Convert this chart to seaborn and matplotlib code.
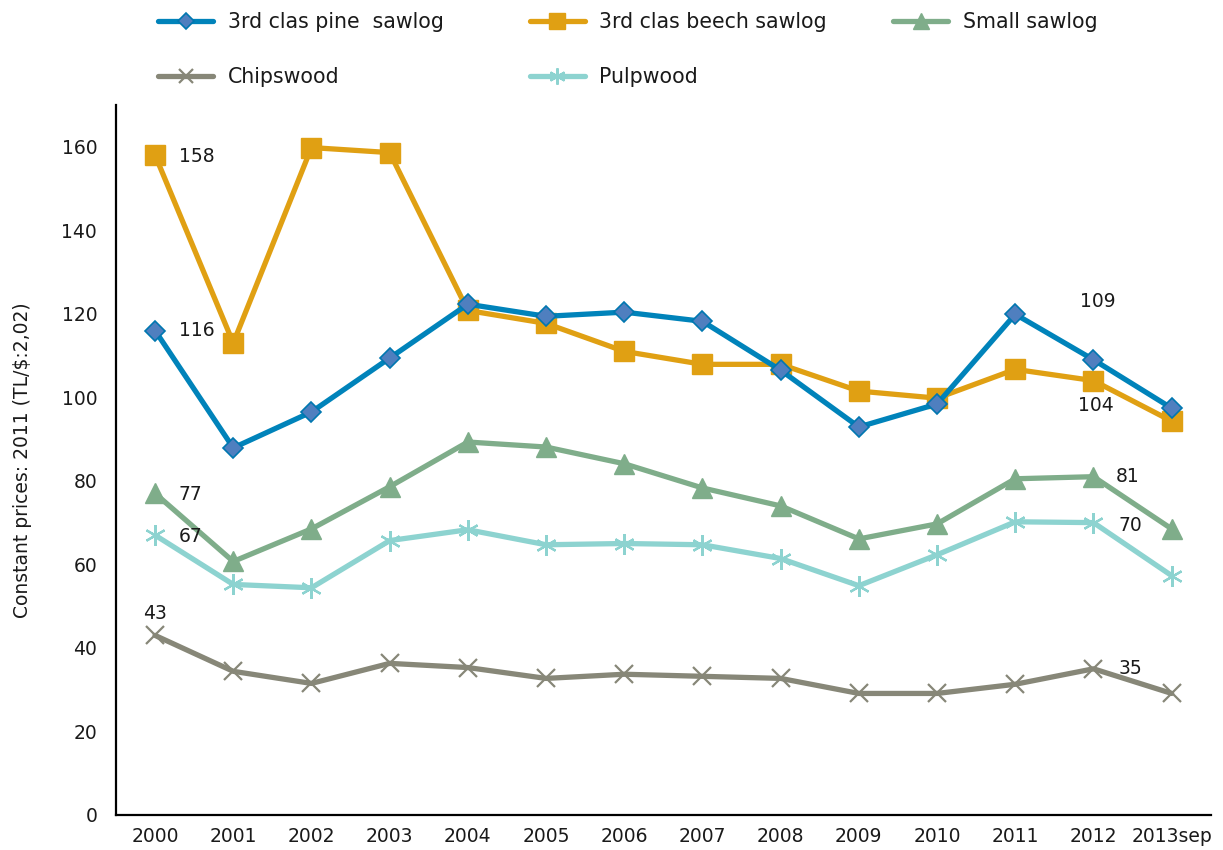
import matplotlib
matplotlib.use("Agg")
import matplotlib.pyplot as plt
import seaborn as sns
import numpy as np
from matplotlib.lines import Line2D

years = ["2000", "2001", "2002", "2003", "2004", "2005", "2006",
         "2007", "2008", "2009", "2010", "2011", "2012", "2013sep"]

pine_sawlog = [116, 87.9, 96.5, 109.4, 122.3, 119.4, 120.4, 118.2, 106.5, 92.9, 98.4, 119.9, 109, 97.4]
beech_sawlog = [158, 113, 159.8, 158.6, 120.8, 117.7, 111, 107.9, 107.9, 101.5, 99.8, 106.7, 104, 94.3]
small_sawlog = [77, 60.7, 68.5, 78.6, 89.3, 88.1, 84.1, 78.3, 74, 66.1, 69.7, 80.5, 81, 68.5]
chipswood = [43, 34.4, 31.5, 36.3, 35.3, 32.7, 33.7, 33.2, 32.7, 29.1, 29.1, 31.3, 35, 29.1]
pulpwood = [67, 55.2, 54.4, 65.7, 68.3, 64.7, 65, 64.7, 61.4, 54.9, 62.3, 70.2, 70, 57.3]

names = ["3rd clas pine  sawlog", "3rd clas beech sawlog", "Small sawlog", "Chipswood", "Pulpwood"]

sns.set_theme(style="white")
plt.rcParams["font.family"] = ["DejaVu Sans"]

fig = plt.figure(figsize=(12.23, 8.5), dpi=100)
ax = fig.add_axes([0.0948, 0.0412, 0.8952, 0.8353])

x = np.arange(len(years))

styles = {
    names[0]: dict(color="#0083BA", marker="D", markersize=10, mfc="#4F7FBF", mec="#0077B0", mew=1.2),
    names[1]: dict(color="#E0A013", marker="s", markersize=15, mfc="#E0A013", mec="#E0A013", mew=1),
    names[2]: dict(color="#7FAD8A", marker="^", markersize=14, mfc="#7FAD8A", mec="#7FAD8A", mew=1),
    names[3]: dict(color="#878778", marker="x", markersize=13, mfc="#878778", mec="#878778", mew=1.6),
    names[4]: dict(color="#8DD3D0", marker=(6, 2, 0), markersize=15, mfc="#8DD3D0", mec="#8DD3D0", mew=1.6),
}
series = {
    names[0]: pine_sawlog,
    names[1]: beech_sawlog,
    names[2]: small_sawlog,
    names[3]: chipswood,
    names[4]: pulpwood,
}

# draw order: lowest series first so the sawlogs sit on top
for name in [names[3], names[4], names[2], names[1], names[0]]:
    st = styles[name]
    sns.lineplot(x=x, y=series[name], ax=ax, color=st["color"], linewidth=3.8,
                 marker=st["marker"], markersize=st["markersize"],
                 markerfacecolor=st["mfc"], markeredgecolor=st["mec"],
                 markeredgewidth=st["mew"], legend=False, zorder=3)

text_color = "#1a1a1a"
fs = 13.5
legend_fs = 14.8

ax.set_xlim(-0.5, len(years) - 0.5)
ax.set_ylim(0, 170)
ax.set_yticks(np.arange(0, 161, 20))
ax.set_xticks(x)
ax.set_xticklabels(years)
ax.tick_params(axis="both", length=0, labelsize=fs, colors=text_color)
ax.tick_params(axis="y", pad=13.5)
ax.tick_params(axis="x", pad=9)
for side in ["top", "right"]:
    ax.spines[side].set_visible(False)
for side in ["left", "bottom"]:
    ax.spines[side].set_color("black")
    ax.spines[side].set_linewidth(1.6)
ax.set_ylabel("Constant prices: 2011 (TL/$:2,02)", fontsize=fs, color=text_color, labelpad=21)

# value labels
lab_kw = dict(fontsize=fs, color=text_color, textcoords="offset points")
ax.annotate(f"{pine_sawlog[0]:.0f}", (0, pine_sawlog[0]), xytext=(17, 0), ha="left", va="center", **lab_kw)
ax.annotate(f"{beech_sawlog[0]:.0f}", (0, beech_sawlog[0]), xytext=(17, -1), ha="left", va="center", **lab_kw)
ax.annotate(f"{small_sawlog[0]:.0f}", (0, small_sawlog[0]), xytext=(17, -1), ha="left", va="center", **lab_kw)
ax.annotate(f"{pulpwood[0]:.0f}", (0, pulpwood[0]), xytext=(17, -1), ha="left", va="center", **lab_kw)
ax.annotate(f"{chipswood[0]:.0f}", (0, chipswood[0]), xytext=(0, 16), ha="center", va="center", **lab_kw)
ax.annotate(f"{pine_sawlog[12]:.0f}", (12, pine_sawlog[12]), xytext=(3, 42), ha="center", va="center", **lab_kw)
ax.annotate(f"{beech_sawlog[12]:.0f}", (12, beech_sawlog[12]), xytext=(2, -18), ha="center", va="center", **lab_kw)
ax.annotate(f"{small_sawlog[12]:.0f}", (12, small_sawlog[12]), xytext=(16, 0), ha="left", va="center", **lab_kw)
ax.annotate(f"{pulpwood[12]:.0f}", (12, pulpwood[12]), xytext=(18, -2), ha="left", va="center", **lab_kw)
ax.annotate(f"{chipswood[12]:.0f}", (12, chipswood[12]), xytext=(18, 0), ha="left", va="center", **lab_kw)


def handle(name):
    st = styles[name]
    return Line2D([], [], color=st["color"], linewidth=3.8, marker=st["marker"],
                  markersize=st["markersize"] * 0.78, markerfacecolor=st["mfc"],
                  markeredgecolor=st["mec"], markeredgewidth=st["mew"])


leg_kw = dict(frameon=False, fontsize=legend_fs, handlelength=2.67, handletextpad=0.7,
              labelspacing=1.72, borderpad=0, labelcolor=text_color, loc="upper left")
columns = [([names[0], names[3]], 0.121), ([names[1], names[4]], 0.425), ([names[2]], 0.722)]
for col_names, xpos in columns:
    fig.legend([handle(n) for n in col_names], col_names,
               bbox_to_anchor=(xpos, 0.998), **leg_kw)

fig.savefig("out.png", dpi=100)
